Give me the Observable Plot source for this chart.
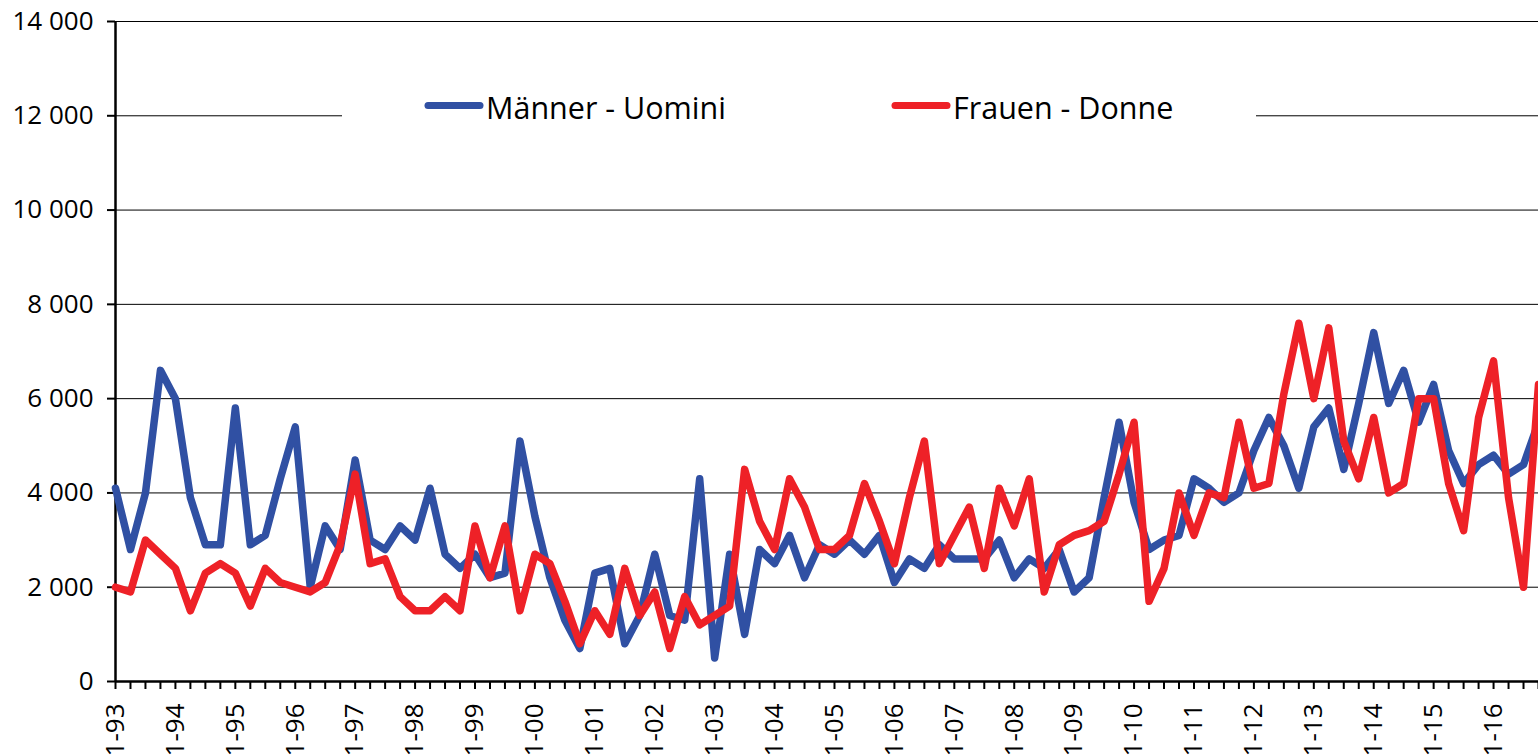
<!DOCTYPE html>
<html><head><meta charset="utf-8">
<script src="https://cdn.jsdelivr.net/npm/d3@7"></script>
<script src="https://cdn.jsdelivr.net/npm/@observablehq/plot@0.6"></script>
<style>
html,body{margin:0;padding:0;background:#fff;}
#wrap{position:relative;width:1538px;height:755px;overflow:hidden;font-family:"Open Sans",sans-serif;}
#legend{position:absolute;left:342px;top:72px;}
</style>
</head><body>
<div id="wrap"></div>
<script>
// Tick labels: first quarter of each year
const yearLabels = ["1-93","1-94","1-95","1-96","1-97","1-98","1-99","1-00","1-01","1-02","1-03","1-04",
  "1-05","1-06","1-07","1-08","1-09","1-10","1-11","1-12","1-13","1-14","1-15","1-16"];
const seriesNames = ["Männer - Uomini", "Frauen - Donne"];
const seriesColors = ["#3050a3", "#ee2127"];
const yTicks = [0, 2000, 4000, 6000, 8000, 10000, 12000, 14000];

// Quarterly values, 1993 Q1 – 2016 Q4
const men = [4100,2800,4000,6600, 6000,3900,2900,2900, 5800,2900,3100,4300, 5400,2000,3300,2800,
  4700,3000,2800,3300, 3000,4100,2700,2400, 2700,2200,2300,5100, 3500,2200,1300,700,
  2300,2400,800,1400, 2700,1400,1300,4300, 500,2700,1000,2800, 2500,3100,2200,2900,
  2700,3000,2700,3100, 2100,2600,2400,2900, 2600,2600,2600,3000, 2200,2600,2400,2800,
  1900,2200,3900,5500, 3800,2800,3000,3100, 4300,4100,3800,4000, 4900,5600,5000,4100,
  5400,5800,4500,5900, 7400,5900,6600,5500, 6300,4900,4200,4600, 4800,4400,4600,5500];
const women = [2000,1900,3000,2700, 2400,1500,2300,2500, 2300,1600,2400,2100, 2000,1900,2100,2900,
  4400,2500,2600,1800, 1500,1500,1800,1500, 3300,2200,3300,1500, 2700,2500,1700,800,
  1500,1000,2400,1400, 1900,700,1800,1200, 1400,1600,4500,3400, 2800,4300,3700,2800,
  2800,3100,4200,3400, 2500,3900,5100,2500, 3100,3700,2400,4100, 3300,4300,1900,2900,
  3100,3200,3400,4400, 5500,1700,2400,4000, 3100,4000,3900,5500, 4100,4200,6100,7600,
  6000,7500,5100,4300, 5600,4000,4200,6000, 6000,4200,3200,5600, 6800,3900,2000,6300];

const idx = d3.range(men.length);
const yearIdx = yearLabels.map((_, k) => k * 4);
const fmt = d => d3.format(",")(d).replace(/,/g, " ");

const plot = Plot.plot({
  width: 1538, height: 755,
  marginLeft: 115, marginRight: 0, marginTop: 21, marginBottom: 74,
  style: {fontFamily: "'Open Sans', sans-serif", fontSize: "26px", color: "#000", background: "#fff", overflow: "hidden"},
  x: {domain: [0, men.length - 1], axis: null},
  y: {domain: [0, 14000], axis: null},
  marks: [
    Plot.gridY(yTicks, {stroke: "#000", strokeOpacity: 1, strokeWidth: 1}),
    Plot.axisY({ticks: yTicks, tickSize: 8, tickPadding: 14, tickFormat: fmt, strokeWidth: 2, fontSize: 26}),
    Plot.axisX({ticks: idx, tickSize: 8, tickFormat: () => "", strokeWidth: 2}),
    Plot.axisX({ticks: yearIdx, tickSize: 0, tickPadding: 22, tickRotate: -90, tickFormat: i => yearLabels[i / 4], fontSize: 26}),
    Plot.ruleX([0], {strokeWidth: 2.5}),
    Plot.ruleY([0], {strokeWidth: 2.5}),
    Plot.line(men, {x: (d, i) => i, y: d => d, stroke: seriesColors[0], strokeWidth: 7.5, strokeLinejoin: "round"}),
    Plot.line(women, {x: (d, i) => i, y: d => d, stroke: seriesColors[1], strokeWidth: 7.5, strokeLinejoin: "round"})
  ]
});
const wrap = document.getElementById("wrap");
wrap.appendChild(plot);

// Legend overlay (white box hides the gridline behind it)
const leg = d3.select(wrap).append("svg").attr("id", "legend")
  .attr("width", 914).attr("height", 66)
  .style("font-family", "'Open Sans', sans-serif");
leg.append("rect").attr("width", 914).attr("height", 66).attr("fill", "#fff");
const items = [{x: 86, name: seriesNames[0], color: seriesColors[0]}, {x: 553, name: seriesNames[1], color: seriesColors[1]}];
items.forEach(it => {
  leg.append("line").attr("x1", it.x).attr("x2", it.x + 52).attr("y1", 33.5).attr("y2", 33.5)
    .attr("stroke", it.color).attr("stroke-width", 7).attr("stroke-linecap", "round");
  leg.append("text").attr("x", it.x + 58).attr("y", 47).attr("font-size", 30.5).attr("fill", "#000").text(it.name);
});
</script>
</body></html>
